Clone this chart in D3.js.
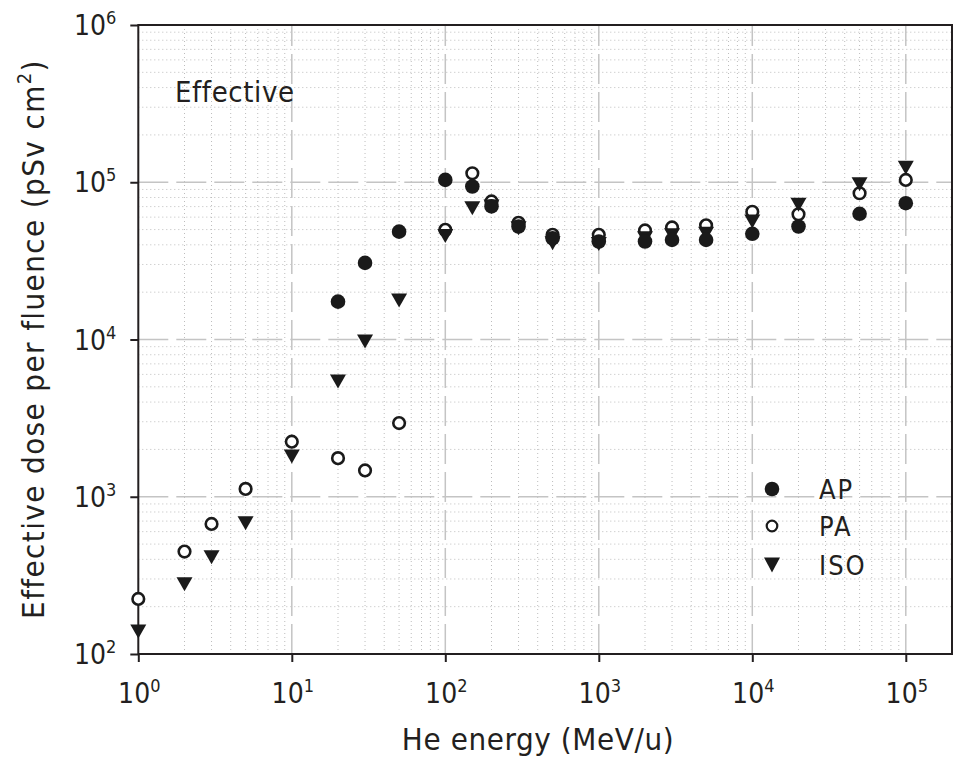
<!DOCTYPE html>
<html>
<head>
<meta charset="utf-8">
<script src="https://cdn.jsdelivr.net/npm/d3@7"></script>
<style>
  body { margin: 0; background: #fff; }
  svg text { font-family: "DejaVu Sans Condensed", "DejaVu Sans", sans-serif; font-stretch: condensed; fill: #231f20; }
</style>
</head>
<body>
<svg id="chart" width="965" height="764"></svg>
<script>
// He energy (MeV/u)
const energies = [1, 2, 3, 5, 10, 20, 30, 50, 100, 150, 200, 300, 500, 1000, 2000, 3000, 5000, 10000, 20000, 50000, 100000];
// effective dose per fluence (pSv cm2), null = not plotted
const apValues  = [null, null, null, null, null, 17400, 30700, 48500, 103500, 94000, 70200, 52300, 44000, 42000, 42000, 43000, 43000, 47000, 52300, 63000, 73600];
const paValues  = [224, 448, 672, 1122, 2240, 1760, 1470, 2940, 49800, 114000, 75500, 55200, 46300, 46300, 49400, 51600, 53200, 64900, 62600, 85100, 103500];
const isoValues = [139, 278, 412, 678, 1800, 5400, 9700, 17700, 45600, 68400, 70000, 51000, 41000, 40500, 44000, 46000, 47000, 56200, 71800, 97000, 123600];

const xDecades = [1, 10, 100, 1000, 10000, 100000];
const yDecades = [100, 1000, 10000, 100000, 1000000];
const legendNames = ["AP", "PA", "ISO"];

const svg = d3.select("#chart");
const width = 965, height = 764;
const margin = { top: 25, right: 13, bottom: 110, left: 138.3 };

const x = d3.scaleLog().domain([1, 2e5]).range([margin.left, width - margin.right]);
const y = d3.scaleLog().domain([100, 1e6]).range([height - margin.bottom, margin.top]);

const x0 = x.range()[0], x1 = x.range()[1];
const y0 = y.range()[0], y1 = y.range()[1];

// minor grid (dotted)
const grid = svg.append("g");
const minorX = [], minorY = [];
xDecades.forEach(d => {
  for (let k = 2; k <= 9; k++) {
    if (d * k < 2e5) minorX.push(d * k);
  }
});
yDecades.slice(0, -1).forEach(d => {
  for (let k = 2; k <= 9; k++) minorY.push(d * k);
});

grid.selectAll(".minorX").data(minorX).enter().append("line")
  .attr("x1", d => x(d)).attr("x2", d => x(d))
  .attr("y1", y0).attr("y2", y1)
  .attr("stroke", "#bdbdbd").attr("stroke-width", 1).attr("stroke-dasharray", "1,3");
grid.selectAll(".minorY").data(minorY).enter().append("line")
  .attr("x1", x0).attr("x2", x1)
  .attr("y1", d => y(d)).attr("y2", d => y(d))
  .attr("stroke", "#bdbdbd").attr("stroke-width", 1).attr("stroke-dasharray", "1,3");

// major grid (dashed)
grid.selectAll(".majorX").data(xDecades.slice(1)).enter().append("line")
  .attr("x1", d => x(d)).attr("x2", d => x(d))
  .attr("y1", y0).attr("y2", y1)
  .attr("stroke", "#c4c4c4").attr("stroke-width", 1.5).attr("stroke-dasharray", "30,8");
grid.selectAll(".majorY").data(yDecades.slice(1, -1)).enter().append("line")
  .attr("x1", x0).attr("x2", x1)
  .attr("y1", d => y(d)).attr("y2", d => y(d))
  .attr("stroke", "#c4c4c4").attr("stroke-width", 1.5).attr("stroke-dasharray", "30,8");

// frame
svg.append("rect")
  .attr("x", x0).attr("y", y1)
  .attr("width", x1 - x0).attr("height", y0 - y1)
  .attr("fill", "none").attr("stroke", "#231f20").attr("stroke-width", 2);

// axes with decade ticks only
const xAxis = svg.append("g")
  .attr("transform", `translate(0,${y0})`)
  .call(d3.axisBottom(x).tickValues(xDecades).tickSize(8).tickFormat(""));
const yAxis = svg.append("g")
  .attr("transform", `translate(${x0},0)`)
  .call(d3.axisLeft(y).tickValues(yDecades).tickSize(8).tickFormat(""));
[xAxis, yAxis].forEach(a => {
  a.select(".domain").remove();
  a.selectAll(".tick line").attr("stroke", "#231f20").attr("stroke-width", 2);
});

function powerLabel(sel, d) {
  const exp = Math.round(Math.log10(d));
  sel.append("tspan").text("10");
  sel.append("tspan").text(exp).attr("font-size", 18).attr("dy", -11);
}

svg.append("g").selectAll("text").data(xDecades).enter().append("text")
  .attr("x", d => x(d) + 1)
  .attr("y", y0 + 49)
  .attr("text-anchor", "middle")
  .attr("font-size", 28)
  .each(function (d) { powerLabel(d3.select(this), d); });

svg.append("g").selectAll("text").data(yDecades).enter().append("text")
  .attr("x", x0 - 22)
  .attr("y", d => y(d) + 10)
  .attr("text-anchor", "end")
  .attr("font-size", 28)
  .each(function (d) { powerLabel(d3.select(this), d); });

// axis titles
svg.append("text")
  .attr("x", 538).attr("y", 750)
  .attr("text-anchor", "middle")
  .attr("font-size", 31)
  .attr("letter-spacing", 0.6)
  .text("He energy (MeV/u)");

const yTitle = svg.append("text")
  .attr("transform", "translate(44,339) rotate(-90)")
  .attr("text-anchor", "middle")
  .attr("font-size", 31)
  .attr("letter-spacing", 1.4);
yTitle.append("tspan").text("Effective dose per fluence (pSv cm");
yTitle.append("tspan").text("2").attr("font-size", 20).attr("dy", -13);
yTitle.append("tspan").text(")").attr("dy", 13);

svg.append("text")
  .attr("x", 175).attr("y", 102)
  .attr("font-size", 29)
  .attr("letter-spacing", 0.6)
  .text("Effective");

// markers
const ink = "#1a1a1a";
function triangle(cx, cy, w, h) {
  return `M${cx - w / 2},${cy - h / 2}L${cx + w / 2},${cy - h / 2}L${cx},${cy + h / 2}Z`;
}
const rows = energies.map((e, i) => ({ e, ap: apValues[i], pa: paValues[i], iso: isoValues[i] }));
const marks = svg.append("g");

marks.selectAll(".pa").data(rows.filter(d => d.pa != null)).enter().append("circle")
  .attr("cx", d => x(d.e)).attr("cy", d => y(d.pa)).attr("r", 5.8)
  .attr("fill", "#fff").attr("stroke", ink).attr("stroke-width", 2.6);

marks.selectAll(".iso").data(rows.filter(d => d.iso != null)).enter().append("path")
  .attr("d", d => triangle(x(d.e), y(d.iso), 16, 14))
  .attr("fill", ink);

marks.selectAll(".ap").data(rows.filter(d => d.ap != null)).enter().append("circle")
  .attr("cx", d => x(d.e)).attr("cy", d => y(d.ap)).attr("r", 7.3)
  .attr("fill", ink);

// legend
const legend = svg.append("g");
const legX = 772, legY = [489, 526, 565];
legend.append("circle").attr("cx", legX).attr("cy", legY[0]).attr("r", 7.3).attr("fill", ink);
legend.append("circle").attr("cx", legX).attr("cy", legY[1]).attr("r", 5.3)
  .attr("fill", "#fff").attr("stroke", ink).attr("stroke-width", 2.2);
legend.append("path").attr("d", triangle(legX, legY[2], 16, 15)).attr("fill", ink);
legend.selectAll("text").data(legendNames).enter().append("text")
  .attr("x", 819)
  .attr("y", (d, i) => legY[i] + 10)
  .attr("font-size", 27)
  .attr("letter-spacing", 2)
  .text(d => d);
</script>
</body>
</html>
